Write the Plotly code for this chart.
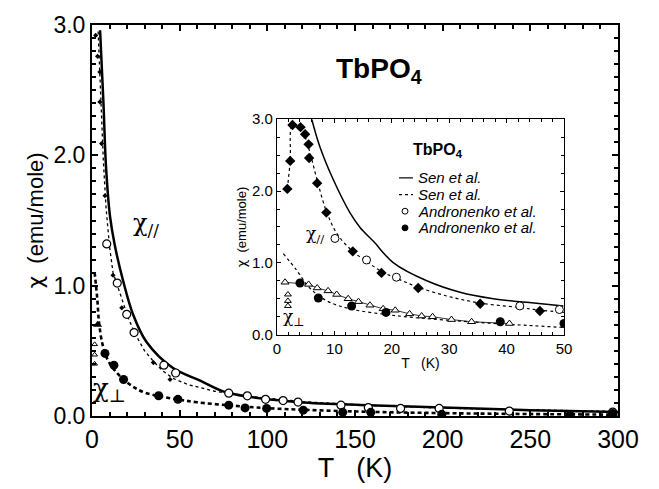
import plotly.graph_objects as go

# ---------------- main panel data ----------------
main_sen_par_T = [4.6, 6.5, 8, 10.3, 13, 17.7, 23.4, 31, 46, 62, 77, 115, 153, 200, 250, 300]
main_sen_par_chi = [2.96, 2.41, 1.91, 1.53, 1.31, 1.04, 0.78, 0.57, 0.37, 0.27, 0.18, 0.11, 0.085, 0.065, 0.045, 0.03]

main_fit_par_T = [3.5, 4.5, 5.5, 6.5, 8, 10, 12, 15, 18, 21, 25, 30, 35, 40, 46, 55, 70, 90, 120, 160, 200, 250, 300]
main_fit_par_chi = [2.95, 2.6, 2.25, 1.95, 1.6, 1.3, 1.1, 0.98, 0.85, 0.74, 0.62, 0.5, 0.42, 0.35, 0.29, 0.24, 0.19, 0.15, 0.11, 0.08, 0.06, 0.045, 0.035]

main_dots_par_T = [2.1, 3.2, 4.5, 4.5, 5.5, 7.4, 12, 17, 35, 44.5]
main_dots_par_chi = [2.92, 2.76, 2.64, 2.41, 2.09, 1.69, 1.08, 0.83, 0.41, 0.28]

main_open_par_T = [8.4, 14.4, 19.8, 24, 41, 47.7, 78, 88.6, 99, 109, 117.5, 142, 157.6, 176, 198, 238, 297]
main_open_par_chi = [1.32, 1.02, 0.78, 0.64, 0.39, 0.33, 0.175, 0.155, 0.128, 0.118, 0.107, 0.083, 0.065, 0.058, 0.058, 0.038, 0.03]

main_fit_perp_T = [1.5, 3, 4, 6, 9, 13, 18, 24, 30, 39, 50, 60, 80, 100, 150, 200, 250, 300]
main_fit_perp_chi = [1.1, 0.9, 0.72, 0.55, 0.43, 0.35, 0.28, 0.22, 0.18, 0.15, 0.125, 0.105, 0.08, 0.06, 0.035, 0.022, 0.015, 0.01]

main_filled_perp_T = [7.4, 12.5, 18, 38, 49, 78, 87.3, 99.6, 120.5, 143, 159, 199.5, 272.6, 297]
main_filled_perp_chi = [0.48, 0.39, 0.28, 0.155, 0.128, 0.083, 0.062, 0.058, 0.045, 0.028, 0.028, 0.013, 0.008, 0.02]

main_tri_T = [3.2]
main_tri_chi = [0.70]
main_tri_open_T = [1.5, 1.5, 1.5]
main_tri_open_chi = [0.40, 0.47, 0.55]

# ---------------- inset data ----------------
ins_sen_par_T = [6.05, 7.5, 9.8, 12.7, 14.5, 16.8, 20.3, 26.1, 31.9, 37.7, 43.5, 49.9]
ins_sen_par_chi = [3.0, 2.61, 2.16, 1.70, 1.49, 1.30, 1.0, 0.75, 0.59, 0.50, 0.45, 0.40]

ins_fit_par_T = [1.8, 2.3, 2.7, 4.1, 5.5, 7, 8.6, 10.5, 13.2, 15.6, 18.2, 21, 24.6, 30, 35.4, 42, 46, 50]
ins_fit_par_chi = [2.03, 2.42, 2.92, 2.89, 2.6, 2.15, 1.72, 1.4, 1.16, 1.02, 0.88, 0.78, 0.66, 0.53, 0.44, 0.38, 0.34, 0.31]

ins_diam_T = [1.8, 2.3, 2.7, 4.1, 4.9, 5.5, 5.6, 7.0, 8.6, 13.2, 18.2, 24.6, 35.4, 45.8]
ins_diam_chi = [2.03, 2.42, 2.92, 2.89, 2.79, 2.65, 2.46, 2.11, 1.70, 1.16, 0.86, 0.65, 0.43, 0.33]

ins_open_T = [10.1, 15.6, 20.8, 42.3, 49.2]
ins_open_chi = [1.34, 1.04, 0.80, 0.40, 0.35]

ins_tri_T = [1.4, 5.5, 7.0, 8.9, 10.4, 12.4, 14.2, 16.2, 18.5, 20.6, 23.1, 25.2, 27.1, 30.4, 33.9, 40.5]
ins_tri_chi = [0.73, 0.70, 0.65, 0.61, 0.56, 0.50, 0.46, 0.41, 0.36, 0.34, 0.29, 0.26, 0.25, 0.21, 0.18, 0.155]
ins_tri_low_T = [1.9, 1.9, 1.9]
ins_tri_low_chi = [0.40, 0.47, 0.56]

ins_filled_T = [4.0, 7.2, 13, 19, 38.9, 50]
ins_filled_chi = [0.72, 0.51, 0.40, 0.31, 0.18, 0.155]

ins_fit_perp_T = [1.1, 3.4, 5.7, 8.7, 12.7, 19.1, 25, 31.9, 37, 43.5, 50]
ins_fit_perp_chi = [1.13, 0.9, 0.65, 0.47, 0.36, 0.28, 0.23, 0.19, 0.16, 0.13, 0.10]

legend_labels = ["Sen et al.", "Sen et al.", "Andronenko et al.", "Andronenko et al."]

FONT = "Liberation Sans"
SERIF = "DejaVu Serif"

fig = go.Figure()


def add(x, y, axes, **kw):
    xa, ya = axes
    fig.add_trace(go.Scatter(x=x, y=y, xaxis=xa, yaxis=ya, showlegend=False,
                             hoverinfo="skip", cliponaxis=True, **kw))


M = ("x", "y")
I = ("x2", "y2")

# main panel
add(main_fit_par_T, main_fit_par_chi, M, mode="lines", line=dict(color="black", width=1.3, dash="dot"))
add(main_sen_par_T, main_sen_par_chi, M, mode="lines", line=dict(color="black", width=2.5, shape="spline"))
add(main_fit_perp_T, main_fit_perp_chi, M, mode="lines",
    line=dict(color="black", width=2.6, dash="4px,3px", shape="spline"))
add(main_dots_par_T, main_dots_par_chi, M, mode="markers", marker=dict(color="black", size=4, symbol="diamond"))
add(main_open_par_T, main_open_par_chi, M, mode="markers",
    marker=dict(color="white", size=8, symbol="circle", line=dict(color="black", width=1.2)))
add(main_filled_perp_T, main_filled_perp_chi, M, mode="markers", marker=dict(color="black", size=9, symbol="circle"))
add(main_tri_T, main_tri_chi, M, mode="markers", marker=dict(color="black", size=8, symbol="triangle-up"))
add(main_tri_open_T, main_tri_open_chi, M, mode="markers",
    marker=dict(color="white", size=5, symbol="triangle-up", line=dict(color="black", width=1)))

# inset
add(ins_sen_par_T, ins_sen_par_chi, I, mode="lines", line=dict(color="black", width=1.5, shape="spline"))
add(ins_fit_par_T, ins_fit_par_chi, I, mode="lines", line=dict(color="black", width=1.2, dash="dot", shape="spline"))
add(ins_fit_perp_T, ins_fit_perp_chi, I, mode="lines",
    line=dict(color="black", width=1.2, dash="dot", shape="spline"))
add(ins_tri_T, ins_tri_chi, I, mode="lines+markers", line=dict(color="black", width=0.8),
    marker=dict(color="white", size=7, symbol="triangle-up", line=dict(color="black", width=1)))
add(ins_tri_low_T, ins_tri_low_chi, I, mode="markers",
    marker=dict(color="white", size=6, symbol="triangle-up", line=dict(color="black", width=1)))
add(ins_diam_T, ins_diam_chi, I, mode="markers", marker=dict(color="black", size=8, symbol="diamond"))
add(ins_open_T, ins_open_chi, I, mode="markers",
    marker=dict(color="white", size=8, symbol="circle", line=dict(color="black", width=1)))
add(ins_filled_T, ins_filled_chi, I, mode="markers", marker=dict(color="black", size=9, symbol="circle"))

axis_common = dict(showgrid=False, zeroline=False, showline=True, linecolor="black",
                   mirror="allticks", ticks="inside", tickcolor="black")

chi_span = '<span style="font-family:DejaVu Sans">χ</span>'

fig.update_layout(
    width=659, height=489,
    margin=dict(l=92, r=41, t=22, b=68),
    paper_bgcolor="white", plot_bgcolor="white",
    font=dict(family=FONT, color="black"),
    xaxis=dict(**axis_common, domain=[0, 1], range=[0, 300], dtick=50, tick0=0,
               linewidth=2, ticklen=6, tickwidth=1.5,
               minor=dict(ticks="inside", dtick=10, ticklen=4, tickcolor="black"),
               tickfont=dict(size=25, family=FONT),
               title=dict(text="T   (K)", font=dict(size=27, family=FONT), standoff=5)),
    yaxis=dict(**axis_common, domain=[0, 1], range=[0, 3.0], dtick=1.0, tick0=0,
               tickformat=".1f", linewidth=2, ticklen=6, tickwidth=1.5,
               minor=dict(ticks="inside", dtick=0.1, ticklen=4, tickcolor="black"),
               tickfont=dict(size=23, family=FONT),
               title=dict(text=chi_span + "  (emu/mole)", font=dict(size=22, family=FONT), standoff=4)),
    xaxis2=dict(**axis_common, domain=[0.3517, 0.8973], anchor="y2", range=[0, 50], dtick=10, tick0=0,
                linewidth=1.3, ticklen=4, tickwidth=1,
                minor=dict(ticks="inside", dtick=2, ticklen=2.5, tickcolor="black"),
                tickfont=dict(size=15, family=FONT),
                title=dict(text="T   (K)", font=dict(size=14, family=FONT), standoff=2)),
    yaxis2=dict(**axis_common, domain=[0.208, 0.759], anchor="x2", range=[0, 3.0], dtick=1.0, tick0=0,
                tickformat=".1f", linewidth=1.3, ticklen=4, tickwidth=1,
                minor=dict(ticks="inside", dtick=0.25, ticklen=2.5, tickcolor="black"),
                tickfont=dict(size=15, family=FONT),
                title=dict(text=chi_span + "  (emu/mole)", font=dict(size=13, family=FONT), standoff=2)),
)


def px(xp):
    return (xp - 92) / 526


def py(yp):
    return (421 - yp) / 399


ann = []
ann.append(dict(text="<b>TbPO<sub>4</sub></b>", x=px(379), y=py(68), xref="paper", yref="paper",
                xanchor="center", yanchor="middle", showarrow=False, font=dict(size=28, family=FONT)))
ann.append(dict(text="<b>TbPO<sub>4</sub></b>", x=px(438), y=py(150), xref="paper", yref="paper",
                xanchor="center", yanchor="middle", showarrow=False, font=dict(size=16, family=FONT)))
# chi labels main
ann.append(dict(text="χ<sub>//</sub>", x=31, y=1.47, xref="x", yref="y", showarrow=False,
                font=dict(size=24, family=SERIF)))
ann.append(dict(text="χ<sub>⊥</sub>", x=10, y=0.2, xref="x", yref="y", showarrow=False,
                font=dict(size=26, family=SERIF)))
# chi labels inset
ann.append(dict(text="χ<sub>//</sub>", x=6.6, y=1.4, xref="x2", yref="y2", showarrow=False,
                font=dict(size=17, family=SERIF)))
ann.append(dict(text="χ<sub>⊥</sub>", x=3.0, y=0.24, xref="x2", yref="y2", showarrow=False,
                font=dict(size=17, family=SERIF)))

# inset legend (drawn by hand)
rows_px = [178, 195, 212, 229]
shapes = []
for i, (lab, ypx) in enumerate(zip(legend_labels, rows_px)):
    yp = py(ypx)
    ann.append(dict(text="<i>" + lab + "</i>", x=px(416), y=yp, xref="paper", yref="paper",
                    xanchor="left", yanchor="middle", showarrow=False,
                    font=dict(size=15, family=FONT)))
    if i < 2:
        shapes.append(dict(type="line", x0=px(399), x1=px(413), y0=yp, y1=yp, xref="paper", yref="paper",
                           line=dict(color="black", width=1.2, dash="solid" if i == 0 else "dot")))
    else:
        cx, r = 405, 3
        shapes.append(dict(type="circle", x0=px(cx - r), x1=px(cx + r), y0=py(ypx + r), y1=py(ypx - r),
                           xref="paper", yref="paper", line=dict(color="black", width=1),
                           fillcolor="white" if i == 2 else "black"))

fig.update_layout(annotations=ann, shapes=shapes)
fig.write_html("out.html")
